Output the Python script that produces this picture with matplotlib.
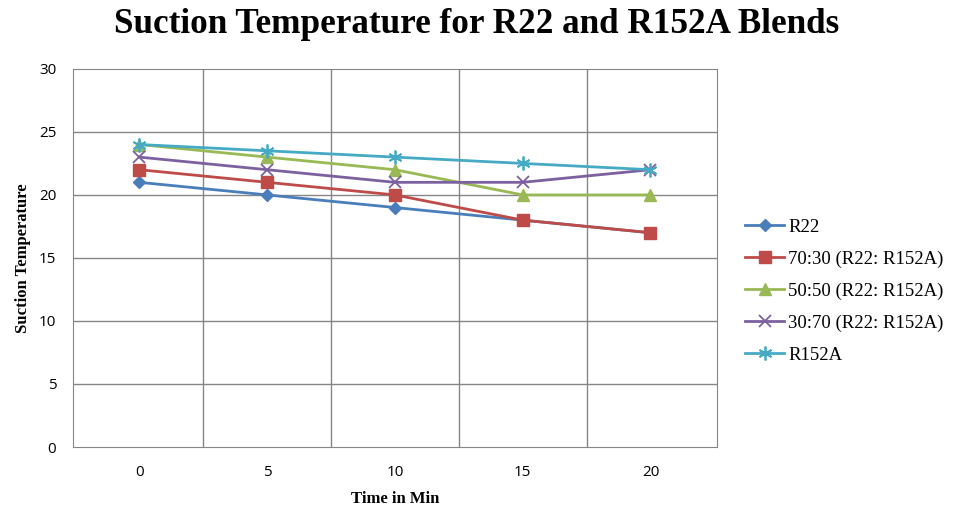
import matplotlib
matplotlib.use("Agg")
import matplotlib.pyplot as plt
import numpy as np

times = ["0", "5", "10", "15", "20"]
series_names = ["R22", "70:30 (R22: R152A)", "50:50 (R22: R152A)", "30:70 (R22: R152A)", "R152A"]
r22 = [21, 20, 19, 18, 17]
b7030 = [22, 21, 20, 18, 17]
b5050 = [24, 23, 22, 20, 20]
b3070 = [23, 22, 21, 21, 22]
r152a = [24, 23.5, 23, 22.5, 22]
y_ticks = [0, 5, 10, 15, 20, 25, 30]

colors = ["#4A7EBB", "#BE4B48", "#98B954", "#7D60A0", "#46AAC5"]
markers = ["D", "s", "^", "x", (6, 2, 0)]
msizes = [6, 8, 8, 8, 10]

fig = plt.figure(figsize=(9.54, 5.11), dpi=100)
ax = fig.add_axes([0.0765, 0.1252, 0.675, 0.74])
x = np.arange(len(times))
for vals, name, c, m, ms in zip([r22, b7030, b5050, b3070, r152a], series_names, colors, markers, msizes):
    ax.plot(x, vals, color=c, marker=m, markersize=ms, linewidth=2, label=name,
            markeredgecolor=c, markeredgewidth=1.3 if m in ("x",) or isinstance(m, tuple) else 1)

ax.set_xlim(-0.52, 4.52)
ax.set_ylim(0, 30)
ax.set_yticks(y_ticks)
ax.set_xticks(x)
ax.set_xticklabels(times)
ax.grid(False)
for b in np.arange(0.5, 4.5, 1):
    ax.axvline(b, color="#868686", linewidth=1, zorder=0)
for t in y_ticks[1:-1]:
    ax.axhline(t, color="#868686", linewidth=1, zorder=0)
for s in ax.spines.values():
    s.set_color("#868686")
ax.tick_params(axis="x", length=0, labelsize=11, pad=13)
ax.tick_params(axis="y", length=0, labelsize=11, pad=12)
for lab in ax.get_xticklabels() + ax.get_yticklabels():
    lab.set_fontfamily("Open Sans")

ax.set_xlabel("Time in Min", fontfamily="Liberation Serif", fontweight="bold", fontsize=12, labelpad=8)
ax.set_ylabel("Suction Temperature", fontfamily="Liberation Serif", fontweight="bold", fontsize=12, labelpad=6)
fig.text(0.5, 0.952, "Suction Temperature for R22 and R152A Blends", ha="center", va="center",
         fontfamily="Liberation Serif", fontweight="bold", fontsize=25.3)

leg = fig.legend(loc="center left", bbox_to_anchor=(0.781, 0.43), frameon=False, borderpad=0,
                 borderaxespad=0,
                 prop={"family": "Liberation Serif", "size": 13.5}, handlelength=2.1,
                 labelspacing=0.78, handletextpad=0.2)
fig.savefig("out.png", dpi=100)
